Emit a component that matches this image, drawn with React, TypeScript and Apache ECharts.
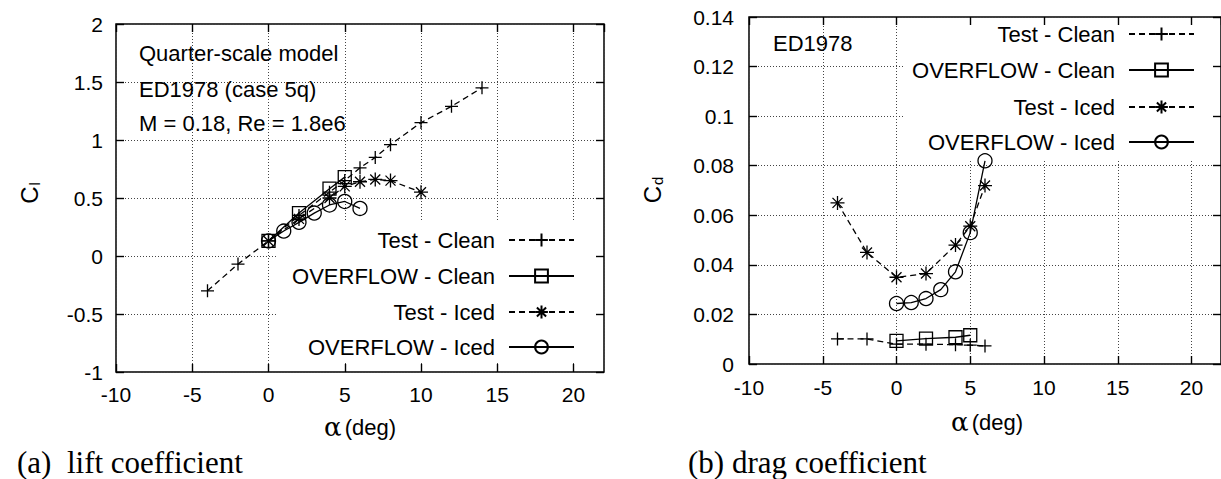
import React, { useEffect, useRef } from "react";
import * as echarts from "echarts";

// ---------- data ----------
const alphaMin = -10;
const alphaMax = 22;
const alphaInterval = 5;

const clMin = -1;
const clMax = 2;
const clInterval = 0.5;

const cdMin = 0;
const cdMax = 0.14;
const cdInterval = 0.02;

const seriesNames = ["Test - Clean", "OVERFLOW - Clean", "Test - Iced", "OVERFLOW - Iced"];

// (a) lift coefficient
const liftTestCleanAlpha = [-4, -2, 0, 2, 4, 5, 6, 7, 8, 10, 12, 14];
const liftTestCleanCl = [-0.3, -0.07, 0.13, 0.35, 0.55, 0.65, 0.76, 0.85, 0.96, 1.15, 1.29, 1.45];
const liftOfCleanAlpha = [0, 2, 4, 5];
const liftOfCleanCl = [0.13, 0.37, 0.58, 0.68];
const liftTestIcedAlpha = [0, 2, 4, 5, 6, 7, 8, 10];
const liftTestIcedCl = [0.13, 0.32, 0.5, 0.6, 0.64, 0.66, 0.65, 0.55];
const liftOfIcedAlpha = [0, 1, 2, 3, 4, 5, 6];
const liftOfIcedCl = [0.13, 0.215, 0.29, 0.37, 0.44, 0.47, 0.41];

// (b) drag coefficient
const dragTestCleanAlpha = [-4, -2, 0, 2, 4, 5, 6];
const dragTestCleanCd = [0.0101, 0.0101, 0.008, 0.008, 0.0078, 0.0076, 0.0073];
const dragOfCleanAlpha = [0, 2, 4, 5];
const dragOfCleanCd = [0.0093, 0.0102, 0.0108, 0.0116];
const dragTestIcedAlpha = [-4, -2, 0, 2, 4, 5, 6];
const dragTestIcedCd = [0.065, 0.045, 0.035, 0.0365, 0.048, 0.0556, 0.072];
const dragOfIcedAlpha = [0, 1, 2, 3, 4, 5, 6];
const dragOfIcedCd = [0.0244, 0.0248, 0.0264, 0.03, 0.0372, 0.053, 0.082];

// ---------- styles ----------
const SANS = "Liberation Sans, Arial, Helvetica, sans-serif";
const SERIF = "Liberation Serif, Times New Roman, serif";
const BLACK = "#000";
const GRIDC = "#444";

const PLUS = "path://M0,7L14,7M7,0L7,14";
const STAR = "path://M0,7L14,7M7,0L7,14M2,2L12,12M2,12L12,2";

function pairs(xs: number[], ys: number[]) {
  return xs.map((x, i) => [x, ys[i]]);
}

type Style = { symbol: string; size: number; dashed: boolean };
const styles: Style[] = [
  { symbol: PLUS, size: 13, dashed: true },
  { symbol: "rect", size: 13, dashed: false },
  { symbol: STAR, size: 14, dashed: true },
  { symbol: "circle", size: 14, dashed: false },
];

function makeSeries(idx: number, data: number[][], axisIndex: number) {
  const s = styles[idx];
  return {
    type: "line",
    name: seriesNames[idx],
    xAxisIndex: axisIndex,
    yAxisIndex: axisIndex,
    data,
    color: BLACK,
    symbol: s.symbol,
    symbolSize: s.size,
    showAllSymbol: true,
    clip: false,
    z: 3,
    lineStyle: { color: BLACK, width: 1.3, type: s.dashed ? [6, 4] : "solid" },
    itemStyle: { color: "none", borderColor: BLACK, borderWidth: 1.3 },
    emphasis: { disabled: true },
  };
}

const splitStyle = { show: true, lineStyle: { color: GRIDC, width: 1, type: [1, 2] } };

function xAxes(gridIndex: number) {
  const base = {
    gridIndex,
    type: "value",
    min: alphaMin,
    max: alphaMax,
    interval: alphaInterval,
    axisLine: { show: false, onZero: false },
    axisTick: { show: true, inside: true, length: 8, lineStyle: { color: BLACK, width: 1.4 } },
  };
  return [
    {
      ...base,
      position: "bottom",
      axisLabel: {
        show: true,
        margin: gridIndex === 0 ? 12 : 13,
        fontSize: 21,
        fontFamily: SANS,
        color: BLACK,
        showMaxLabel: false,
      },
      splitLine: splitStyle,
    },
    {
      ...base,
      position: "top",
      axisLabel: { show: false },
      splitLine: { show: false },
    },
  ];
}

function yAxes(gridIndex: number, min: number, max: number, interval: number) {
  const base = {
    gridIndex,
    type: "value",
    min,
    max,
    interval,
    axisLine: { show: false, onZero: false },
    axisTick: { show: true, inside: true, length: 8, lineStyle: { color: BLACK, width: 1.4 } },
  };
  return [
    {
      ...base,
      position: "left",
      axisLabel: {
        show: true,
        margin: gridIndex === 0 ? 13 : 15,
        fontSize: 21,
        fontFamily: SANS,
        color: BLACK,
      },
      splitLine: splitStyle,
    },
    {
      ...base,
      position: "right",
      axisLabel: { show: false },
      splitLine: { show: false },
    },
  ];
}

function legends(rightPx: number, centers: number[]) {
  return seriesNames.map((name, i) => ({
    data: [name],
    orient: "horizontal",
    align: "right",
    right: rightPx,
    top: centers[i] - 12,
    padding: 0,
    itemWidth: 65,
    itemHeight: 16,
    selectedMode: false,
    textStyle: { fontSize: 22, fontFamily: SANS, color: BLACK, padding: [0, 9, 0, 0] },
  }));
}

function text(x: number, y: number, str: string, opts: any = {}) {
  return {
    type: "text",
    x,
    y,
    z: 10,
    style: {
      text: str,
      font: `22px ${SANS}`,
      fill: BLACK,
      textAlign: "left",
      textVerticalAlign: "middle",
      ...opts,
    },
  };
}

function alphaTitle(x: number, y: number) {
  return {
    type: "text",
    x,
    y,
    z: 10,
    style: {
      text: "{a|α} {t|(deg)}",
      textAlign: "center",
      textVerticalAlign: "middle",
      fill: BLACK,
      rich: {
        a: { fontSize: 26, fontFamily: "DejaVu Serif, serif", fill: BLACK },
        t: { fontSize: 22, fontFamily: SANS, fill: BLACK },
      },
    },
  };
}

function coefTitle(x: number, y: number, sub: string) {
  return {
    type: "text",
    x,
    y,
    rotation: Math.PI / 2,
    z: 10,
    style: {
      text: `{c|C}{s|${sub}}`,
      textAlign: "center",
      textVerticalAlign: "middle",
      fill: BLACK,
      rich: {
        c: { fontSize: 24, fontFamily: SANS, fill: BLACK },
        s: { fontSize: 15, fontFamily: SANS, fill: BLACK, padding: [10, 0, 0, 1] },
      },
    },
  };
}

export default function App() {
  const ref = useRef<HTMLDivElement>(null);

  useEffect(() => {
    if (!ref.current) return;
    const chart = echarts.init(ref.current, undefined, { renderer: "svg" });

    const option: any = {
      animation: false,
      backgroundColor: "#fff",
      grid: [
        { left: 116, top: 24, width: 488, height: 348, show: true, borderColor: BLACK, borderWidth: 1.5 },
        { left: 749, top: 17, width: 472, height: 347, show: true, borderColor: BLACK, borderWidth: 1.5 },
      ],
      xAxis: [...xAxes(0), ...xAxes(1)],
      yAxis: [
        ...yAxes(0, clMin, clMax, clInterval),
        ...yAxes(1, cdMin, cdMax, cdInterval),
      ],
      legend: [...legends(1221 - 575, [241, 277, 313, 348]), ...legends(1221 - 1195, [35, 71, 108, 143])],
      series: [
        makeSeries(0, pairs(liftTestCleanAlpha, liftTestCleanCl), 0),
        makeSeries(1, pairs(liftOfCleanAlpha, liftOfCleanCl), 0),
        makeSeries(2, pairs(liftTestIcedAlpha, liftTestIcedCl), 0),
        makeSeries(3, pairs(liftOfIcedAlpha, liftOfIcedCl), 0),
        makeSeries(0, pairs(dragTestCleanAlpha, dragTestCleanCd), 2),
        makeSeries(1, pairs(dragOfCleanAlpha, dragOfCleanCd), 2),
        makeSeries(2, pairs(dragTestIcedAlpha, dragTestIcedCd), 2),
        makeSeries(3, pairs(dragOfIcedAlpha, dragOfIcedCd), 2),
      ],
      graphic: [
        // opaque key boxes (hide the grid behind the keys)
        { type: "rect", z: 1, shape: { x: 278, y: 221, width: 317, height: 142 }, style: { fill: "#fff" } },
        { type: "rect", z: 1, shape: { x: 903, y: 26, width: 310, height: 134 }, style: { fill: "#fff" } },
        // annotations
        text(139, 53, "Quarter-scale model"),
        text(139, 89, "ED1978 (case 5q)"),
        text(139, 123, "M = 0.18, Re = 1.8e6"),
        text(773, 43, "ED1978"),
        // axis titles
        coefTitle(29, 193, "l"),
        coefTitle(652, 190, "d"),
        alphaTitle(360, 427),
        alphaTitle(987, 422),
        // captions
        text(17, 462, "(a)  lift coefficient", { font: `31px ${SERIF}` }),
        text(688, 462, "(b) drag coefficient", { font: `31px ${SERIF}` }),
      ],
    };

    chart.setOption(option);
    return () => chart.dispose();
  }, []);

  return (
    <div
      ref={ref}
      style={{ position: "fixed", left: 0, top: 0, width: 1221, height: 479, background: "#fff" }}
    />
  );
}
